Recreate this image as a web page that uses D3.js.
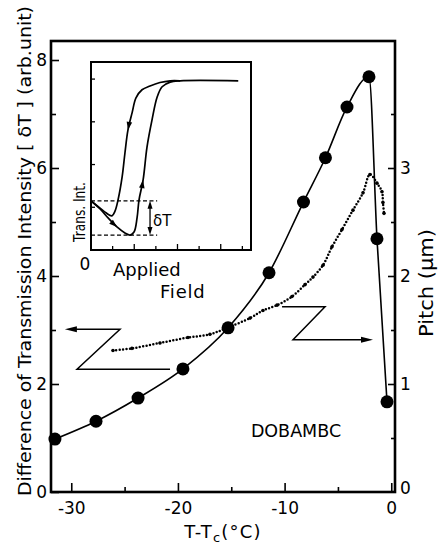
<!DOCTYPE html>
<html>
<head>
<meta charset="utf-8">
<script src="https://cdn.jsdelivr.net/npm/d3@7"></script>
<style>
  html, body { margin: 0; padding: 0; background: #fff; }
  svg { display: block; }
  text { font-family: "DejaVu Sans", sans-serif; fill: #000; }
</style>
</head>
<body>
<script>
// ---------------- data ----------------
// big dots: difference of transmission intensity (left axis) vs T - Tc
const tempBig = [-31.53, -27.68, -23.74, -19.53, -15.3, -11.46, -8.23, -6.17, -4.15, -2.09, -1.34, -0.40];
const deltaT  = [0.98, 1.31, 1.74, 2.28, 3.04, 4.06, 5.37, 6.19, 7.13, 7.69, 4.69, 1.67];
// small dots: pitch (right axis)
const tempPitch = [-26.09, -24.31, -21.68, -19.06, -17.0, -15.40, -13.24, -12.03, -10.71, -9.31, -8.09,
                   -7.34, -6.40, -5.56, -4.62, -3.59, -2.65, -2.0, -1.34, -0.87, -0.78, -0.68];
const pitch     = [1.31, 1.33, 1.38, 1.43, 1.46, 1.52, 1.61, 1.68, 1.73, 1.81, 1.92,
                   1.99, 2.10, 2.27, 2.43, 2.61, 2.77, 2.94, 2.86, 2.78, 2.68, 2.58];
// axis ticks
const xTicks = [-30, -20, -10, 0];
const xMinor = [-25, -15, -5];
const leftTicks = [0, 2, 4, 6, 8];
const leftMinor = [1, 3, 5, 7];
const rightTicks = [0, 1, 2, 3];
const rightMinor = [0.5, 1.5, 2.5, 3.5];
// inset hysteresis loop (applied field, transmitted intensity)
const fwdField = [0, 0.42, 0.79, 1.20, 1.57, 1.81, 1.99, 2.13, 2.22, 2.41, 2.59, 2.82, 3.06, 3.29, 3.66, 4.12, 6.81];
const fwdInt   = [1.15, 0.96, 0.75, 0.54, 0.40, 0.35, 0.42, 0.75, 1.17, 1.64, 2.41, 3.04, 3.58, 3.82, 3.93, 3.96, 3.96];
const retField = [4.12, 3.66, 3.19, 2.73, 2.36, 2.08, 1.90, 1.71, 1.57, 1.44, 1.25, 1.11, 0.97, 0.69, 0.42, 0];
const retInt   = [3.96, 3.96, 3.92, 3.84, 3.75, 3.56, 3.21, 2.81, 2.27, 1.71, 1.17, 0.91, 0.80, 0.87, 0.98, 1.15];
const insetXTicks = [1, 2, 3, 4, 5, 6, 7];
const insetYTicks = [1, 2, 3, 4];
const deltaTop = 1.15, deltaBottom = 0.35, dashEnd = 3.06, deltaArrowX = 2.73;

// ---------------- setup ----------------
const W = 439, H = 547;
const svg = d3.select("body").append("svg").attr("width", W).attr("height", H);
svg.append("rect").attr("width", W).attr("height", H).attr("fill", "#fff");

const x  = d3.scaleLinear().domain([-31.9, 0.35]).range([51, 395]);
const yL = d3.scaleLinear().domain([0, 8.352]).range([492, 41]);
const yR = d3.scaleLinear().domain([0, 4.176]).range([492, 41]);

function styleAxis(g, size) {
  g.attr("font-family", "DejaVu Sans").attr("font-size", size);
  g.select(".domain").remove();
  g.selectAll(".tick line").attr("stroke", "#000").attr("stroke-width", 1.6);
  g.selectAll("text").attr("fill", "#000");
}

// axes
svg.append("g").attr("transform", "translate(51,0)")
  .call(d3.axisLeft(yL).tickValues(leftTicks).tickSize(-8).tickPadding(4).tickFormat(d3.format("d")))
  .call(g => styleAxis(g, 17));
svg.append("g").attr("transform", "translate(51,0)")
  .call(d3.axisLeft(yL).tickValues(leftMinor).tickSize(-5).tickFormat(""))
  .call(g => styleAxis(g, 17));
svg.append("g").attr("transform", "translate(0,492)")
  .call(d3.axisBottom(x).tickValues(xTicks).tickSize(-9).tickPadding(10)
        .tickFormat(d => d === 0 ? "0" : "-" + Math.abs(d)))
  .call(g => styleAxis(g, 17));
svg.append("g").attr("transform", "translate(0,492)")
  .call(d3.axisBottom(x).tickValues(xMinor).tickSize(-5).tickFormat(""))
  .call(g => styleAxis(g, 17));
svg.append("g").attr("transform", "translate(395,0)")
  .call(d3.axisRight(yR).tickValues(rightTicks).tickSize(-7).tickPadding(5).tickFormat(d3.format("d")))
  .call(g => styleAxis(g, 17))
  .call(g => g.selectAll(".tick").filter(d => d === 0).select("text").attr("dy", "0.1em"))
  .call(g => g.selectAll(".tick").filter(d => d === 0).select("line").remove());
svg.append("g").attr("transform", "translate(395,0)")
  .call(d3.axisRight(yR).tickValues(rightMinor).tickSize(-4).tickFormat(""))
  .call(g => styleAxis(g, 17));

// frame
svg.append("rect").attr("x", 51).attr("y", 41).attr("width", 344).attr("height", 451)
  .attr("fill", "none").attr("stroke", "#000").attr("stroke-width", 2.6);

// axis titles
svg.append("text")
  .attr("transform", "translate(31,251) rotate(-90)")
  .attr("text-anchor", "middle").attr("font-size", 18.5)
  .attr("textLength", 490).attr("lengthAdjust", "spacingAndGlyphs")
  .text("Difference of Transmission Intensity [ δT ] (arb.unit)");
svg.append("text")
  .attr("transform", "translate(433,283) rotate(-90)")
  .attr("text-anchor", "middle").attr("font-size", 19)
  .attr("textLength", 108).attr("lengthAdjust", "spacingAndGlyphs")
  .text("Pitch (μm)");
const xt = svg.append("text").attr("x", 223).attr("y", 538)
  .attr("text-anchor", "middle").attr("font-size", 18).attr("letter-spacing", 1.2);
xt.append("tspan").text("T-T");
xt.append("tspan").attr("font-size", 13).attr("dy", 4).text("c");
xt.append("tspan").attr("dy", -4).text("(°C)");

// ---------------- big-dot series ----------------
const bigData = tempBig.map((t, i) => ({ t, v: deltaT[i] }));
svg.append("path").datum(bigData)
  .attr("d", d3.line().x(d => x(d.t)).y(d => yL(d.v)).curve(d3.curveMonotoneX))
  .attr("fill", "none").attr("stroke", "#000").attr("stroke-width", 1.6);
svg.selectAll("circle.big").data(bigData).join("circle").attr("class", "big")
  .attr("cx", d => x(d.t)).attr("cy", d => yL(d.v)).attr("r", 6.5).attr("fill", "#000");

// ---------------- pitch series ----------------
const pData = tempPitch.map((t, i) => ({ t, v: pitch[i] }));
svg.append("path").datum(pData)
  .attr("d", d3.line().x(d => x(d.t)).y(d => yR(d.v)).curve(d3.curveCatmullRom))
  .attr("fill", "none").attr("stroke", "#000").attr("stroke-width", 2.5)
  .attr("stroke-linecap", "round").attr("stroke-dasharray", "0 3.4");
svg.selectAll("circle.sm").data(pData).join("circle").attr("class", "sm")
  .attr("cx", d => x(d.t)).attr("cy", d => yR(d.v)).attr("r", 1.8).attr("fill", "#000");

// ---------------- arrow helpers ----------------
function arrowHead(g, px, py, angle, len = 10, half = 3) {
  g.append("path")
    .attr("d", `M0,0 L${-len},${-half} L${-len},${half} Z`)
    .attr("transform", `translate(${px},${py}) rotate(${angle})`)
    .attr("fill", "#000");
}
// left "Z" arrow (points to left axis)
const lz = { topY: 3.013, botY: 2.272, tipT: -30.6, cornerT: -25.43, diagT: -29.46, endT: -20.74 };
const ann = svg.append("g").attr("fill", "none").attr("stroke", "#000").attr("stroke-width", 1.5);
ann.append("path").attr("d", d3.line()([
  [x(lz.tipT) + 6, yL(lz.topY)], [x(lz.cornerT), yL(lz.topY)], [x(lz.diagT), yL(lz.botY)], [x(lz.endT), yL(lz.botY)]
]));
arrowHead(svg, x(lz.tipT), yL(lz.topY), 180, 12, 3);
// right "Z" arrow (points to right axis)
const rz = { topY: 3.43, botY: 2.82, startT: -10.24, cornerT: -6.21, diagT: -9.21, tipT: -1.71 };
ann.append("path").attr("d", d3.line()([
  [x(rz.startT), yL(rz.topY)], [x(rz.cornerT), yL(rz.topY)], [x(rz.diagT), yL(rz.botY)], [x(rz.tipT) - 6, yL(rz.botY)]
]));
arrowHead(svg, x(rz.tipT), yL(rz.botY), 0, 12, 3);

svg.append("text").attr("x", 296).attr("y", 437).attr("text-anchor", "middle")
  .attr("font-size", 17.5).text("DOBAMBC");

// ---------------- inset ----------------
const ix = d3.scaleLinear().domain([0, 7.4]).range([91, 251]);
const iy = d3.scaleLinear().domain([0, 4.4]).range([250, 62]);
const inset = svg.append("g");
inset.append("rect").attr("x", 91).attr("y", 62).attr("width", 160).attr("height", 188)
  .attr("fill", "#fff").attr("stroke", "#000").attr("stroke-width", 2);
inset.selectAll("line.ty").data(insetYTicks).join("line").attr("class", "ty")
  .attr("x1", ix(0)).attr("x2", ix(0) + 4).attr("y1", d => iy(d)).attr("y2", d => iy(d))
  .attr("stroke", "#000").attr("stroke-width", 1.3);
inset.selectAll("line.tx").data(insetXTicks).join("line").attr("class", "tx")
  .attr("x1", d => ix(d)).attr("x2", d => ix(d))
  .attr("y1", iy(0)).attr("y2", d => iy(0) - (d % 2 === 0 ? 6 : 4))
  .attr("stroke", "#000").attr("stroke-width", 1.3);

const iline = d3.line().x(d => ix(d[0])).y(d => iy(d[1])).curve(d3.curveCatmullRom.alpha(0.5));
const fwdPts = fwdField.map((f, i) => [f, fwdInt[i]]);
const retPts = retField.map((f, i) => [f, retInt[i]]);
const fwdPath = inset.append("path").attr("d", iline(fwdPts))
  .attr("fill", "none").attr("stroke", "#000").attr("stroke-width", 1.7);
const retPath = inset.append("path").attr("d", iline(retPts))
  .attr("fill", "none").attr("stroke", "#000").attr("stroke-width", 1.7);

function arrowOnPath(pathSel, pt) {
  const node = pathSel.node();
  const L = node.getTotalLength();
  const tx = ix(pt[0]), ty = iy(pt[1]);
  let best = 0, bd = Infinity;
  for (let s = 0; s <= L; s += 0.5) {
    const p = node.getPointAtLength(s);
    const dd = (p.x - tx) ** 2 + (p.y - ty) ** 2;
    if (dd < bd) { bd = dd; best = s; }
  }
  const p0 = node.getPointAtLength(Math.max(0, best - 3));
  const p1 = node.getPointAtLength(Math.min(L, best + 3));
  const ang = Math.atan2(p1.y - p0.y, p1.x - p0.x) * 180 / Math.PI;
  const pm = node.getPointAtLength(best);
  arrowHead(inset, pm.x, pm.y, ang, 8, 2.8);
}
arrowOnPath(fwdPath, fwdPts[3]);
arrowOnPath(fwdPath, fwdPts[9]);
arrowOnPath(retPath, retPts[7]);

// delta T markers
inset.selectAll("line.dash").data([deltaTop, deltaBottom]).join("line").attr("class", "dash")
  .attr("x1", ix(0)).attr("x2", ix(dashEnd)).attr("y1", d => iy(d)).attr("y2", d => iy(d))
  .attr("stroke", "#000").attr("stroke-width", 1.3).attr("stroke-dasharray", "4 2.5");
inset.append("line").attr("x1", ix(deltaArrowX)).attr("x2", ix(deltaArrowX))
  .attr("y1", iy(deltaTop) + 6).attr("y2", iy(deltaBottom) - 6)
  .attr("stroke", "#000").attr("stroke-width", 1.3);
arrowHead(inset, ix(deltaArrowX), iy(deltaTop), -90, 8, 2.5);
arrowHead(inset, ix(deltaArrowX), iy(deltaBottom), 90, 8, 2.5);
inset.append("text").attr("x", ix(deltaArrowX) + 3).attr("y", 226).attr("font-size", 15).text("δT");

inset.append("text").attr("transform", "translate(85,212) rotate(-90)")
  .attr("text-anchor", "middle").attr("font-size", 16.5)
  .attr("textLength", 60).attr("lengthAdjust", "spacingAndGlyphs").text("Trans. Int.");
svg.append("text").attr("x", 85).attr("y", 270).attr("text-anchor", "middle").attr("font-size", 17).text("0");
svg.append("text").attr("x", 113).attr("y", 276).attr("font-size", 18).text("Applied");
svg.append("text").attr("x", 160).attr("y", 298).attr("font-size", 18).attr("letter-spacing", 0.8).text("Field");
</script>
</body>
</html>
